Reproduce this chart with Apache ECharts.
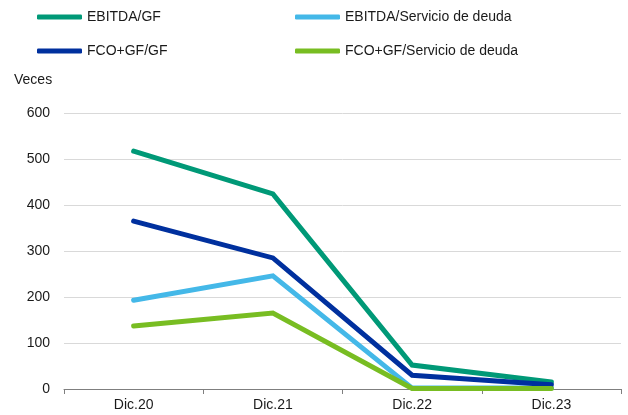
<!DOCTYPE html>
<html>
<head>
<meta charset="utf-8">
<script src="https://cdn.jsdelivr.net/npm/echarts@6/dist/echarts.min.js"></script>
<style>
  html, body { margin: 0; padding: 0; background: #fff; }
  #chart { width: 628px; height: 415px; }
</style>
</head>
<body>
<div id="chart"></div>
<script>
const elChart = document.getElementById('chart');

// Data
const categories = ['Dic.20', 'Dic.21', 'Dic.22', 'Dic.23'];
const yTicks = [0, 100, 200, 300, 400, 500, 600];

const ebitdaGf = [517, 424, 52, 15];
const fcoGf = [365, 285, 30, 9];
const ebitdaServicio = [193, 246, 2, 2];
const fcoServicio = [137, 165, 1, 1];

const fontFamily = '"Liberation Sans", Arial, sans-serif';

function makeSeries(name, data, color) {
    return {
        name: name,
        type: 'line',
        data: data,
        color: color,
        symbol: 'none',
        lineStyle: { width: 5, color: color, cap: 'round', join: 'miter' },
    };
}

const chart = echarts.init(elChart, null, { renderer: 'canvas' });

const legendBase = {
    orient: 'vertical',
    top: 10,
    padding: 0,
    itemGap: 20,
    itemWidth: 45,
    itemHeight: 5,
    icon: 'roundRect',
    textStyle: { fontSize: 14, color: '#1a1a1a', fontFamily: fontFamily },
};

const option = {
    animation: false,
    title: {
        text: 'Veces',
        left: 9,
        top: 68,
        textStyle: { fontSize: 14, fontWeight: 'normal', color: '#1a1a1a', fontFamily: fontFamily },
    },
    legend: [
        Object.assign({}, legendBase, { left: 37, data: ['EBITDA/GF', 'FCO+GF/GF'] }),
        Object.assign({}, legendBase, { left: 295, data: ['EBITDA/Servicio de deuda', 'FCO+GF/Servicio de deuda'] }),
    ],
    grid: {
        left: 64,
        right: 7,
        top: 113,
        bottom: 26,
        containLabel: false,
    },
    xAxis: {
        type: 'category',
        data: categories,
        boundaryGap: true,
        axisLine: { lineStyle: { color: '#7f7f7f', width: 1 } },
        axisTick: { show: true, length: 5, lineStyle: { color: '#7f7f7f' } },
        axisLabel: { fontSize: 14, color: '#1a1a1a', fontFamily: fontFamily, margin: 9 },
    },
    yAxis: {
        type: 'value',
        min: yTicks[0],
        max: yTicks[yTicks.length - 1],
        interval: 100,
        axisLine: { show: false },
        axisTick: { show: false },
        axisLabel: { fontSize: 14, color: '#1a1a1a', fontFamily: fontFamily, margin: 14 },
        splitLine: { lineStyle: { color: '#d9d9d9', width: 1 } },
    },
    series: [
        makeSeries('EBITDA/GF', ebitdaGf, '#009977'),
        makeSeries('EBITDA/Servicio de deuda', ebitdaServicio, '#44b8e8'),
        makeSeries('FCO+GF/GF', fcoGf, '#00309e'),
        makeSeries('FCO+GF/Servicio de deuda', fcoServicio, '#78bd22'),
    ],
};

chart.setOption(option);
</script>
</body>
</html>
